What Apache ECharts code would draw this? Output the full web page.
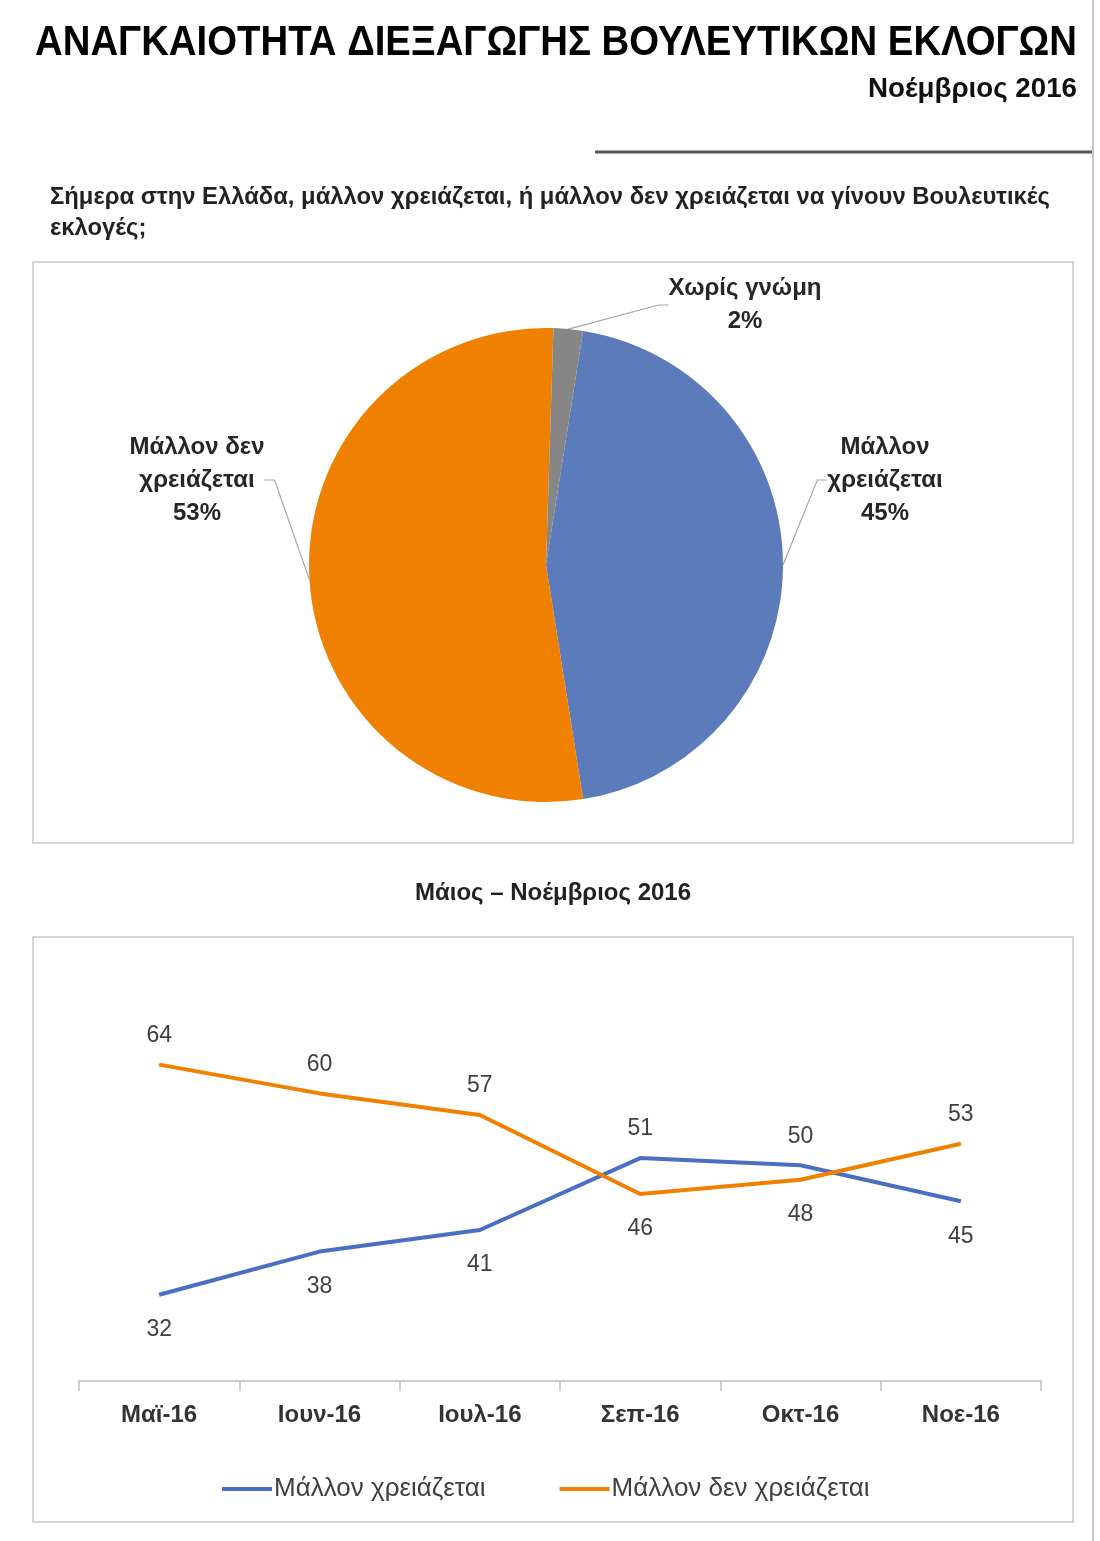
<!DOCTYPE html>
<html>
<head>
<meta charset="utf-8">
<script src="https://cdn.jsdelivr.net/npm/echarts@6/dist/echarts.min.js"></script>
<style>
html,body{margin:0;padding:0;background:#fff;}
#chart{width:1100px;height:1541px;}
</style>
</head>
<body>
<div id="chart"></div>
<script>
// ---- data ----
var pieNames = ['Μάλλον χρειάζεται', 'Μάλλον δεν χρειάζεται', 'Χωρίς γνώμη'];
var pieLabelText = ['Μάλλον\nχρειάζεται', 'Μάλλον δεν\nχρειάζεται', 'Χωρίς γνώμη'];
var pieValues = [45, 53, 2];
var months = ['Μαϊ-16', 'Ιουν-16', 'Ιουλ-16', 'Σεπ-16', 'Οκτ-16', 'Νοε-16'];
var seriesNames = ['Μάλλον χρειάζεται', 'Μάλλον δεν χρειάζεται'];
var needed = [32, 38, 41, 51, 50, 45];
var notNeeded = [64, 60, 57, 46, 48, 53];
var neededLabelPos = ['bottom', 'bottom', 'bottom', 'top', 'top', 'bottom'];
var notNeededLabelPos = ['top', 'top', 'top', 'bottom', 'bottom', 'top'];

var titleText = 'ΑΝΑΓΚΑΙΟΤΗΤΑ ΔΙΕΞΑΓΩΓΗΣ ΒΟΥΛΕΥΤΙΚΩΝ ΕΚΛΟΓΩΝ';
var dateText = 'Νοέμβριος 2016';
var questionLines = ['Σήμερα στην Ελλάδα, μάλλον χρειάζεται, ή μάλλον δεν χρειάζεται να γίνουν Βουλευτικές', 'εκλογές;'];
var lineTitle = 'Μάιος – Νοέμβριος 2016';

// ---- styles ----
var FF = '"Liberation Sans", "Noto Sans", sans-serif';
var BLUE_PIE = '#5b7bba', ORANGE = '#f08000', GRAY = '#868686';
var BLUE_LINE = '#4a6fc2';
var pieColors = [BLUE_PIE, ORANGE, GRAY];
var pieLabelPos = [[885, 480], [197, 480], [745, 305]];

var mctx = document.createElement('canvas').getContext('2d');
function fitScale(text, font, width) {
  mctx.font = font;
  return width / mctx.measureText(text).width;
}

var titleFont = 'bold 43px ' + FF;
var dateFont = 'bold 27px ' + FF;
var qFont = 'bold 23px ' + FF;
var ltFont = 'bold 24px ' + FF;
var sTitle = fitScale(titleText, titleFont, 1042);
var sDate = fitScale(dateText, dateFont, 209);
var sQ = fitScale(questionLines[0], qFont, 1000);
var sLt = fitScale(lineTitle, ltFont, 276);

var chart = echarts.init(document.getElementById('chart'), null, {renderer: 'canvas'});

var option = {
  animation: false,
  backgroundColor: '#fff',
  graphic: [
    {type: 'text', x: 35, y: 43, scaleX: sTitle, style: {text: titleText, font: titleFont, fill: '#000', align: 'left', verticalAlign: 'middle'}},
    {type: 'text', x: 1077, y: 90, scaleX: sDate, style: {text: dateText, font: dateFont, fill: '#111', align: 'right', verticalAlign: 'middle'}},
    {type: 'line', shape: {x1: 595, y1: 152, x2: 1092, y2: 152}, style: {stroke: '#555', lineWidth: 3}},
    {type: 'line', shape: {x1: 1093, y1: 0, x2: 1093, y2: 1541}, style: {stroke: '#c8c8c8', lineWidth: 2}},
    {type: 'text', x: 50, y: 198, scaleX: sQ, style: {text: questionLines[0], font: qFont, fill: '#222', align: 'left', verticalAlign: 'middle'}},
    {type: 'text', x: 50, y: 229, scaleX: sQ, style: {text: questionLines[1], font: qFont, fill: '#222', align: 'left', verticalAlign: 'middle'}},
    {type: 'rect', shape: {x: 33, y: 262, width: 1040, height: 581}, style: {fill: 'none', stroke: '#c8c8c8', lineWidth: 1.5}},
    {type: 'text', x: 553, y: 893, scaleX: sLt, style: {text: lineTitle, font: ltFont, fill: '#222', align: 'center', verticalAlign: 'middle'}},
    {type: 'rect', shape: {x: 33, y: 937, width: 1040, height: 585}, style: {fill: 'none', stroke: '#c8c8c8', lineWidth: 1.5}}
  ],
  grid: {left: 79, right: 59, top: 1021.5, bottom: 160},
  xAxis: {
    type: 'category',
    data: months,
    boundaryGap: true,
    axisLine: {lineStyle: {color: '#bfbfbf', width: 1.5}},
    axisTick: {show: true, length: 10, lineStyle: {color: '#bfbfbf', width: 1.5}},
    axisLabel: {fontFamily: FF, fontWeight: 'bold', fontSize: 24, color: '#333', margin: 22}
  },
  yAxis: {type: 'value', min: 20, max: 70, show: false, splitLine: {show: false}},
  legend: {
    data: [
      {name: seriesNames[0], itemStyle: {color: BLUE_LINE}},
      {name: seriesNames[1], itemStyle: {color: ORANGE}}
    ],
    left: 222, top: 1476, padding: 0,
    icon: 'rect', itemWidth: 50, itemHeight: 4, itemGap: 74,
    textStyle: {fontFamily: FF, fontSize: 26, color: '#404040', padding: [0, 0, 0, -3]}
  },
  series: [
    {
      type: 'pie',
      center: [546, 565],
      radius: 237,
      startAngle: 81,
      clockwise: true,
      data: pieValues.map(function (v, i) {
        return {name: pieNames[i], value: v, itemStyle: {color: pieColors[i]}};
      }),
      label: {
        show: true,
        formatter: function (p) { return pieLabelText[p.dataIndex] + '\n' + p.value + '%'; },
        fontFamily: FF, fontWeight: 'bold', fontSize: 24, color: '#262626', lineHeight: 33, align: 'center'
      },
      labelLine: {show: true, length: 20, length2: 10, lineStyle: {color: '#a6a6a6', width: 1.2}},
      labelLayout: function (params) {
        var p = pieLabelPos[params.dataIndex];
        return {x: p[0], y: p[1], align: 'center', verticalAlign: 'middle'};
      },
      emphasis: {disabled: true}
    },
    {
      type: 'line', name: seriesNames[0],
      data: needed.map(function (v, i) { return {value: v, label: {position: neededLabelPos[i]}}; }),
      color: BLUE_LINE, lineStyle: {width: 4, color: BLUE_LINE},
      symbol: 'circle', symbolSize: 1, showSymbol: true, itemStyle: {color: BLUE_LINE},
      label: {show: true, distance: 20, offset: [0, 3], fontFamily: FF, fontSize: 23, color: '#404040'},
      emphasis: {disabled: true}
    },
    {
      type: 'line', name: seriesNames[1],
      data: notNeeded.map(function (v, i) { return {value: v, label: {position: notNeededLabelPos[i]}}; }),
      color: ORANGE, lineStyle: {width: 4, color: ORANGE},
      symbol: 'circle', symbolSize: 1, showSymbol: true, itemStyle: {color: ORANGE},
      label: {show: true, distance: 20, offset: [0, 3], fontFamily: FF, fontSize: 23, color: '#404040'},
      emphasis: {disabled: true}
    }
  ]
};
chart.setOption(option);
</script>
</body>
</html>
